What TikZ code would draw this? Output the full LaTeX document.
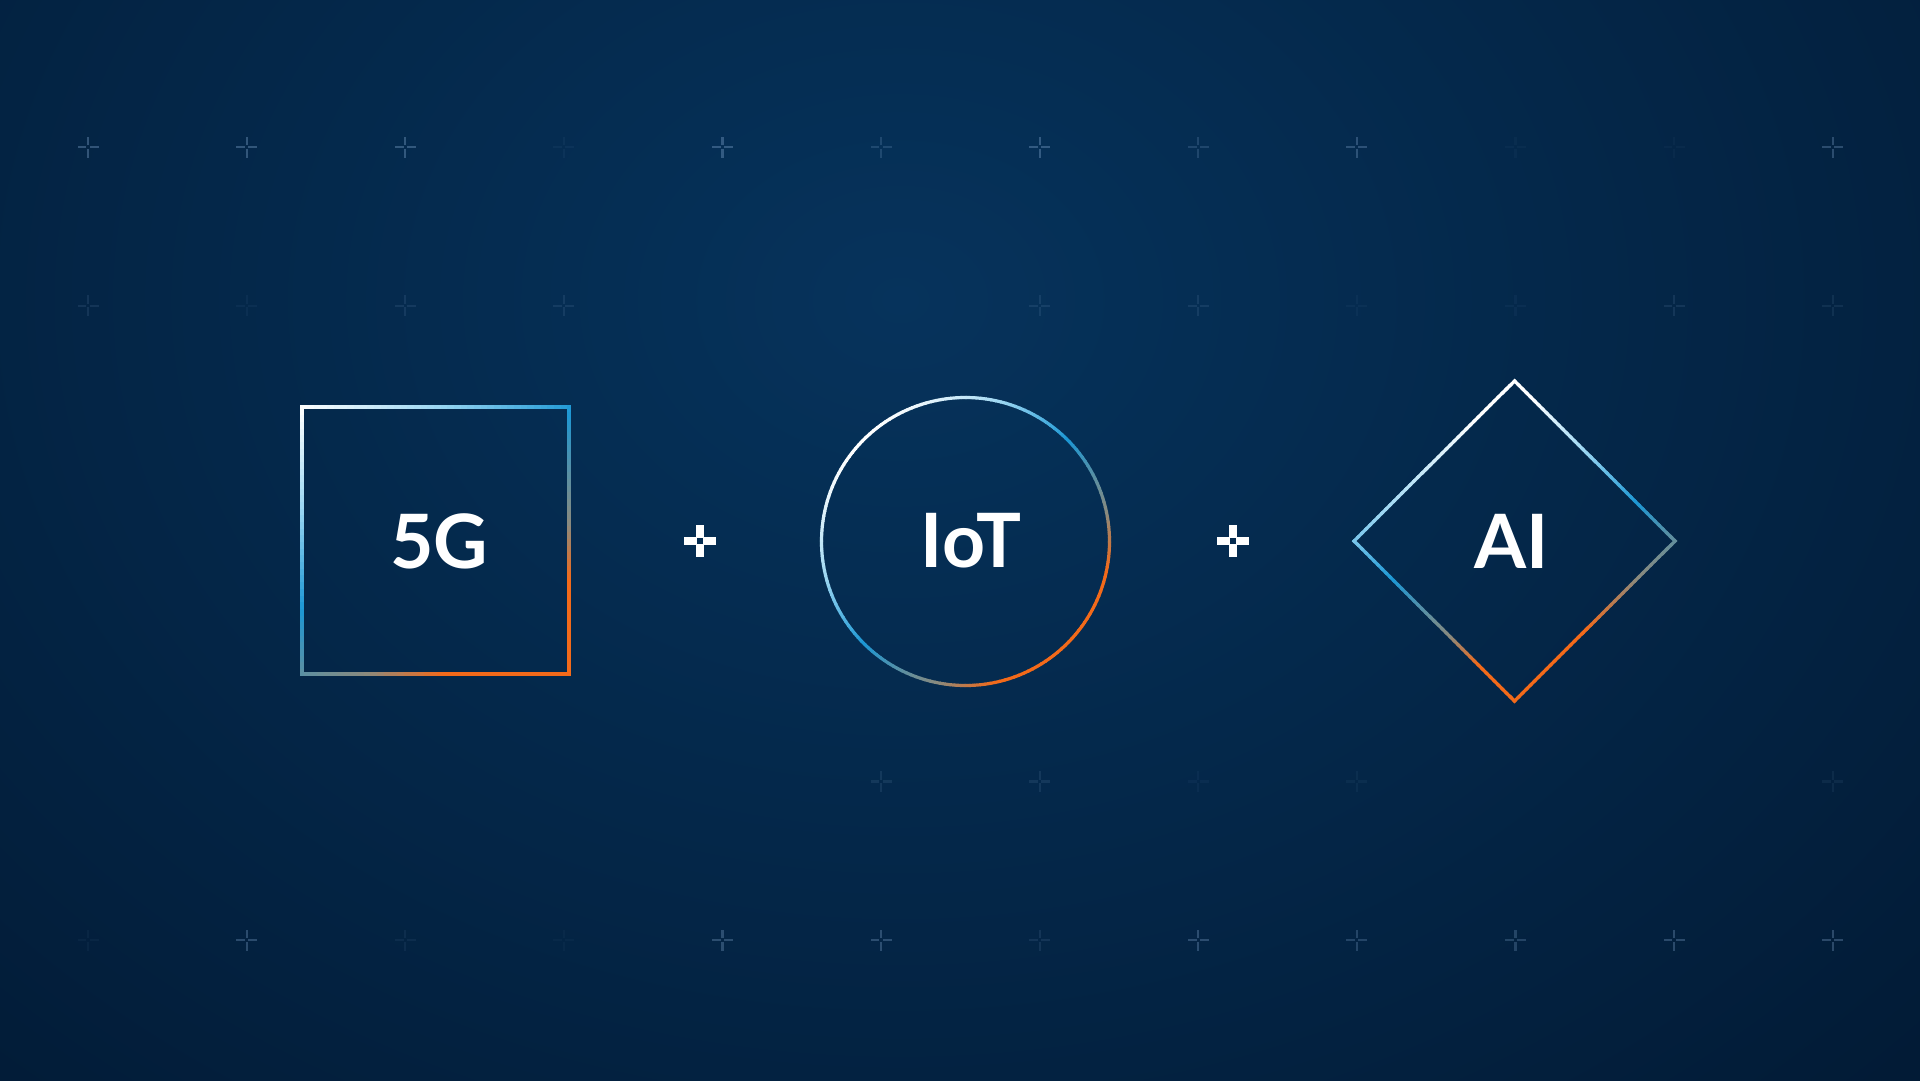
\documentclass[tikz,border=0pt]{standalone}
\usepackage{fontspec}
\setmainfont{Lato}

% background
\definecolor{bgdeep}{HTML}{021B36}
\definecolor{bglight}{HTML}{06335C}
\definecolor{gridc}{HTML}{8AAED6}
% stroke gradient stops
\definecolor{sw}{HTML}{FFFFFF}
\definecolor{sl}{HTML}{9AD6F2}
\definecolor{sb}{HTML}{1C97D4}
\definecolor{sg}{HTML}{8A8A7E}
\definecolor{so}{HTML}{F36A1A}

% sets colour "seg" for a position #1 in [0,1] along the stroke gradient
\newcommand\setsegcolor[1]{%
  \pgfmathsetmacro\tpos{max(0,min(1,#1))}%
  \ifdim\tpos pt<0.25pt
    \pgfmathsetmacro\mixp{100*(0.25-\tpos)/0.25}\colorlet{seg}{sw!\mixp!sl}%
  \else\ifdim\tpos pt<0.5pt
    \pgfmathsetmacro\mixp{100*(0.5-\tpos)/0.25}\colorlet{seg}{sl!\mixp!sb}%
  \else\ifdim\tpos pt<0.78pt
    \pgfmathsetmacro\mixp{100*(0.78-\tpos)/0.28}\colorlet{seg}{sb!\mixp!sg}%
  \else\ifdim\tpos pt<0.92pt
    \pgfmathsetmacro\mixp{100*(0.92-\tpos)/0.14}\colorlet{seg}{sg!\mixp!so}%
  \else
    \colorlet{seg}{so}%
  \fi\fi\fi\fi}

% straight edge (#1,#2)--(#3,#4) drawn in 40 pieces; #5 gives the gradient
% position from the piece midpoint (\mx,\my)
\newcommand\gradedge[5]{%
  \foreach \k in {0,...,39}{%
    \pgfmathsetmacro\xa{#1+\k/40*(#3-#1)}%
    \pgfmathsetmacro\ya{#2+\k/40*(#4-#2)}%
    \pgfmathsetmacro\xb{#1+(\k+1)/40*(#3-#1)}%
    \pgfmathsetmacro\yb{#2+(\k+1)/40*(#4-#2)}%
    \pgfmathsetmacro\mx{(\xa+\xb)/2}%
    \pgfmathsetmacro\my{(\ya+\yb)/2}%
    \setsegcolor{#5}%
    \draw[outline, seg] (\xa,\ya) -- (\xb,\yb);
  }}

% gradient positions for the square and the diamond outlines
\def\tsquare{1.15*(0.42*(\mx-302)/267+0.58*(\my-407)/267)}
\def\tdiamond{0.5+0.18*(\mx-1514.5)/160+0.6*(\my-541)/160}

% one row of faint grid crosses: #1 = y, #2 = opacities of the 12 columns
\newcommand\gridrow[2]{%
  \foreach \o [count=\c from 0] in {#2}{%
    \ifdim\o pt>0pt \pic at ({88+158.6*\c},#1) {gridplus=\o};\fi
  }}

\begin{document}
\begin{tikzpicture}[x=1pt,y=-1pt,
  outline/.style={line width=3.2pt, line cap=rect},
  word/.style={text=white, inner sep=0pt,
    font=\fontsize{75}{90}\selectfont\bfseries},
  bigplus/.pic={
    \fill[white] (-16,-3.7) rectangle (-2.6,3.7);
    \fill[white] (2.6,-3.7) rectangle (16,3.7);
    \fill[white] (-3.7,-16) rectangle (3.7,-2.6);
    \fill[white] (-3.7,2.6) rectangle (3.7,16);
  },
  gridplus/.pic={
    \fill[gridc, opacity=#1] (-10.5,-1.1) rectangle (-1.6,1.1);
    \fill[gridc, opacity=#1] (1.6,-1.1) rectangle (10.5,1.1);
    \fill[gridc, opacity=#1] (-1.1,-10.5) rectangle (1.1,-1.6);
    \fill[gridc, opacity=#1] (-1.1,1.6) rectangle (1.1,10.5);
  }]

\useasboundingbox (0,0) rectangle (1920,1080);

% backdrop
\fill[bgdeep] (0,0) rectangle (1920,1080);
\begin{scope}
  \clip (0,0) rectangle (1920,1080);
  \shade[inner color=bglight, outer color=bgdeep] (-500,-800) rectangle (2300,1400);
\end{scope}

% grid of crosses
\gridrow{147}{.35,.35,.35,.06,.35,.2,.35,.2,.3,.04,.04,.3}
\gridrow{305.6}{.12,.06,.12,.12,0,0,.12,.12,.05,.05,.12,.1}
\gridrow{781.4}{0,0,0,0,0,.12,.12,.05,.06,0,0,.08}
\gridrow{940}{.05,.3,.08,.04,.3,.3,.12,.3,.25,.25,.3,.3}

% square
\gradedge{302}{407}{569}{407}{\tsquare}
\gradedge{569}{407}{569}{674}{\tsquare}
\gradedge{569}{674}{302}{674}{\tsquare}
\gradedge{302}{674}{302}{407}{\tsquare}

% circle
\foreach \i in {0,...,179}{%
  \pgfmathsetmacro\aa{2*\i}%
  \setsegcolor{0.5+0.3536*(cos(\aa+1)+sin(\aa+1))}%
  \draw[line width=3.2pt, seg] ([shift={(965.5,541.5)}]\aa:144)
    arc[start angle=\aa, delta angle=2.4, radius=144];
}

% diamond
\gradedge{1514.5}{381}{1675}{541}{\tdiamond}
\gradedge{1675}{541}{1514.5}{701}{\tdiamond}
\gradedge{1514.5}{701}{1354}{541}{\tdiamond}
\gradedge{1354}{541}{1514.5}{381}{\tdiamond}

% labels
\node[word] (fiveg) at (439,541) {5G};
\node[word] (iot) at (971,541) {IoT};
\node[word] (ai) at (1512,541) {AI};

% plus signs between the shapes
\pic (plusa) at (700,541) {bigplus};
\pic (plusb) at (1233,541) {bigplus};

\end{tikzpicture}
\end{document}
